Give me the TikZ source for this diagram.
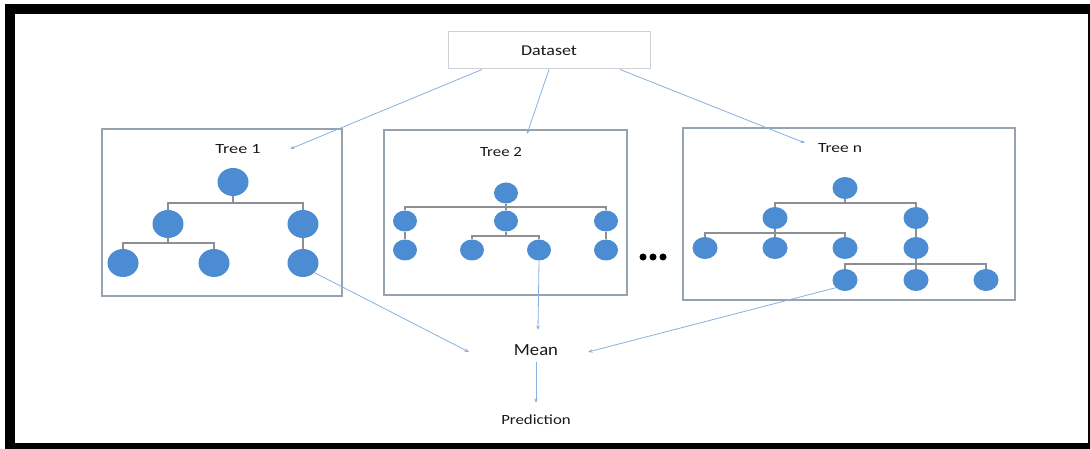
\documentclass[tikz,border=0pt]{standalone}
\usepackage{graphicx}
\usepackage{fontspec}
\setmainfont{Carlito}
\usetikzlibrary{arrows.meta,calc,shapes.geometric}
\definecolor{nodeblue}{RGB}{76,140,210}
\definecolor{arrowblue}{RGB}{135,178,222}
\definecolor{edgegray}{RGB}{140,144,150}
\definecolor{boxgray}{RGB}{150,162,174}
\definecolor{dsgray}{RGB}{205,208,212}
\definecolor{txt}{RGB}{25,25,25}
\newcommand{\hstretch}[2]{\scalebox{#1}[1]{#2}}
\begin{document}
\begin{tikzpicture}[x=1pt,y=-1pt,
  bignode/.style={ellipse, fill=nodeblue, minimum width=31pt, minimum height=28pt, inner sep=0pt},
  midnode/.style={ellipse, fill=nodeblue, minimum width=24pt, minimum height=21pt, inner sep=0pt},
  smlnode/.style={ellipse, fill=nodeblue, minimum width=25pt, minimum height=22pt, inner sep=0pt},
  treebox/.style={draw=boxgray, line width=1.1pt, inner sep=0pt},
  link/.style={draw=edgegray, line width=1.1pt},
  flow/.style={draw=arrowblue, line width=0.8pt, -{Stealth[length=4.5pt,width=3.5pt]}},
  lbl/.style={text=txt, inner sep=0pt, font=\fontsize{14}{16}\selectfont},
  dot/.style={circle, fill=black, minimum size=7pt, inner sep=0pt}
]
\useasboundingbox (0,0) rectangle (1090,449);
\clip (0,0) rectangle (1090,449);
\fill[white] (0,0) rectangle (1090,449);
% heavy black frame
\draw[line width=10pt] (9.5,9.5) rectangle (1093,448);

% dataset box
\node[draw=dsgray, line width=1pt, minimum width=202pt, minimum height=37pt, inner sep=0pt,
      text=txt, font=\fontsize{15}{17}\selectfont] (ds) at (549,50.5) {\hstretch{1.2}{Dataset}};

% tree boxes
\node[treebox, minimum width=240pt, minimum height=167pt] (box1) at (222,212.5) {};
\node[treebox, minimum width=243pt, minimum height=165pt] (box2) at (505.5,212.5) {};
\node[treebox, minimum width=332pt, minimum height=172pt] (boxn) at (849,214) {};

\node[lbl] (lab1) at (238,149) {\hstretch{1.3}{Tree 1}};
\node[lbl] (lab2) at (501,152) {\hstretch{1.2}{Tree 2}};
\node[lbl] (labn) at (840,148) {\hstretch{1.25}{Tree n}};

% tree 1
\node[bignode] (a0) at (233,182) {};
\node[bignode] (a1) at (168,224) {};
\node[bignode] (a2) at (303,224) {};
\node[bignode] (a3) at (123,263) {};
\node[bignode] (a4) at (214,263) {};
\node[bignode] (a5) at (303,263) {};
\coordinate (b1) at (0,203);
\coordinate (b2) at (0,243);
\foreach \c in {a1,a2} \draw[link] (a0.south) |- (\c.north |- b1) -- (\c.north);
\foreach \c in {a3,a4} \draw[link] (a1.south) |- (\c.north |- b2) -- (\c.north);
\draw[link] (a2.south) -- (a5.north);

% tree 2
\node[midnode] (c0) at (506,193) {};
\node[midnode] (c1) at (405,221) {};
\node[midnode] (c2) at (506,221) {};
\node[midnode] (c3) at (606,221) {};
\node[midnode] (c4) at (405,250) {};
\node[midnode] (c5) at (472,250) {};
\node[midnode] (c6) at (539,250) {};
\node[midnode] (c7) at (606,250) {};
\coordinate (d1) at (0,207);
\coordinate (d2) at (0,236);
\foreach \c in {c1,c2,c3} \draw[link] (c0.south) |- (\c.north |- d1) -- (\c.north);
\foreach \c in {c5,c6} \draw[link] (c2.south) |- (\c.north |- d2) -- (\c.north);
\draw[link] (c1.south) -- (c4.north);
\draw[link] (c3.south) -- (c7.north);

% tree n
\node[smlnode] (e0) at (845,188) {};
\node[smlnode] (e1) at (775,218) {};
\node[smlnode] (e2) at (916,218) {};
\node[smlnode] (e3) at (705,248) {};
\node[smlnode] (e4) at (775,248) {};
\node[smlnode] (e5) at (845,248) {};
\node[smlnode] (e6) at (916,248) {};
\node[smlnode] (e7) at (845,280) {};
\node[smlnode] (e8) at (916,280) {};
\node[smlnode] (e9) at (986,280) {};
\coordinate (f1) at (0,203);
\coordinate (f2) at (0,233);
\coordinate (f3) at (0,264);
\foreach \c in {e1,e2} \draw[link] (e0.south) |- (\c.north |- f1) -- (\c.north);
\foreach \c in {e3,e4,e5} \draw[link] (e1.south) |- (\c.north |- f2) -- (\c.north);
\draw[link] (e2.south) -- (e6.north);
\foreach \c in {e7,e8,e9} \draw[link] (e6.south) |- (\c.north |- f3) -- (\c.north);

% ellipsis between the trees
\node[dot] (p1) at (643,257) {};
\node[dot] (p2) at (653,257) {};
\node[dot] (p3) at (663,257) {};

% aggregation
\node[text=txt, inner sep=0pt, font=\fontsize{17}{19}\selectfont] (mean) at (536,350) {\hstretch{1.1}{Mean}};
\node[lbl] (pred) at (536,420) {\hstretch{1.2}{Prediction}};

\coordinate (t1) at (290,149);
\coordinate (t2) at (527,134);
\coordinate (tn) at (805,143);
\coordinate (mL) at (469,352);
\coordinate (mT) at (538,330);
\coordinate (mR) at (588,352);

\draw[flow] ($(ds.south west)!0.17!(ds.south east)$) -- (t1);
\draw[flow] ($(ds.south west)!0.5!(ds.south east)$) -- (t2);
\draw[flow] ($(ds.south west)!0.85!(ds.south east)$) -- (tn);

\draw[flow] (a5.-40) -- (mL);
\draw[flow] (c6.south) -- (mT);
\draw[flow] (e7.-140) -- (mR);
\draw[flow, shorten <=6pt, shorten >=12pt] (mean.south) -- (pred.north);
\end{tikzpicture}
\end{document}
